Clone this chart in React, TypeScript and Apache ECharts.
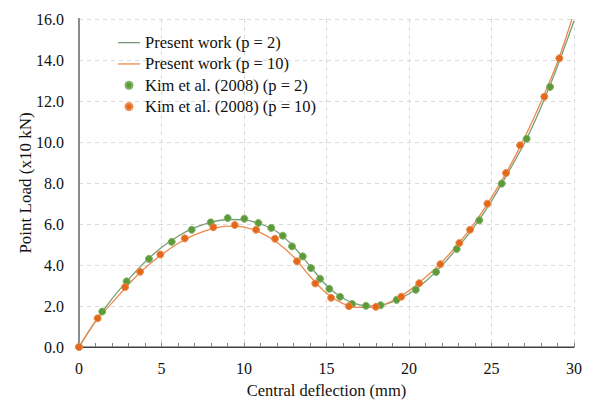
import React, { useEffect, useRef } from "react";
import * as echarts from "echarts";

const lineX: number[] = [0, 1, 2, 3, 4, 5, 6, 7, 8, 9, 10, 11, 12, 13, 14, 15, 16, 17, 18, 19, 20, 21, 22, 23, 24, 25, 26, 27, 28, 29, 30];
const presentP2: number[] = [0, 1.25, 2.35, 3.3, 4.15, 4.85, 5.4, 5.82, 6.08, 6.22, 6.2, 6.0, 5.62, 4.9, 3.95, 3.0, 2.38, 2.05, 2.0, 2.2, 2.6, 3.2, 3.98, 4.9, 5.92, 7.12, 8.5, 9.95, 11.7, 13.7, 15.9];
const presentP10X: number[] = [0, 1, 2, 3, 4, 5, 6, 7, 8, 9, 10, 11, 12, 13, 14, 15, 16, 17, 18, 19, 20, 21, 22, 23, 24, 25, 26, 27, 28, 29, 29.88];
const presentP10: number[] = [0, 1.25, 2.15, 3.05, 3.85, 4.5, 5.05, 5.47, 5.75, 5.9, 5.85, 5.58, 5.1, 4.4, 3.45, 2.62, 2.12, 1.93, 1.95, 2.25, 2.75, 3.4, 4.15, 5.05, 6.08, 7.3, 8.65, 10.2, 11.95, 13.9, 16.0];

const kimP2X: number[] = [0, 1.41, 2.89, 4.24, 5.62, 6.83, 7.98, 9.01, 10.02, 10.87, 11.65, 12.35, 12.91, 13.56, 14.06, 14.61, 15.17, 15.82, 16.55, 17.39, 18.28, 19.25, 20.41, 21.64, 22.89, 24.26, 25.62, 27.13, 28.55];
const kimP2Y: number[] = [0, 1.73, 3.2, 4.3, 5.13, 5.72, 6.08, 6.29, 6.26, 6.05, 5.81, 5.43, 4.91, 4.42, 3.85, 3.33, 2.84, 2.45, 2.1, 2.01, 2.04, 2.3, 2.79, 3.66, 4.78, 6.18, 7.97, 10.16, 12.69];

const kimP10X: number[] = [0, 1.13, 2.79, 3.7, 4.93, 6.41, 8.14, 9.44, 10.73, 11.88, 13.21, 14.32, 15.28, 16.36, 17.99, 19.53, 20.62, 21.9, 23.05, 23.7, 24.75, 25.88, 26.73, 28.2, 29.11];
const kimP10Y: number[] = [0, 1.4, 2.92, 3.67, 4.51, 5.3, 5.84, 5.95, 5.72, 5.28, 4.18, 3.1, 2.4, 1.99, 1.96, 2.45, 3.11, 4.04, 5.07, 5.72, 6.99, 8.49, 9.84, 12.21, 14.08];

const seriesNames: string[] = ["Present work (p = 2)", "Present work (p = 10)", "Kim et al. (2008) (p = 2)", "Kim et al. (2008) (p = 10)"];

const zip = (xs: number[], ys: number[]) => xs.map((x, i) => [x, ys[i]]);

const FONT = "Liberation Serif";
const LINE_ICON = "path://M0,0 L22,0 L22,1.3 L0,1.3 Z";

export default function App() {
  const ref = useRef<HTMLDivElement>(null);
  useEffect(() => {
    if (!ref.current) return;
    const chart = echarts.init(ref.current, null, { renderer: "svg" });
    const greenPt = "#5c9a3a";
    const orangePt = "#e2691c";
    const greenLine = "#7a9c78";
    const orangeLine = "#ec8a4c";
    chart.setOption({
      animation: false,
      backgroundColor: "#ffffff",
      textStyle: { fontFamily: FONT },
      grid: { left: 79, right: 16, top: 19, bottom: 54, containLabel: false, outerBoundsMode: "none" },
      legend: {
        orient: "vertical",
        left: 118,
        top: 32,
        padding: 0,
        itemGap: 0,
        itemWidth: 22,
        itemHeight: 7,
        textStyle: { fontFamily: FONT, fontSize: 16.5, color: "#111", lineHeight: 21.3 },
        data: [
          { name: seriesNames[0], icon: LINE_ICON },
          { name: seriesNames[1], icon: LINE_ICON },
          { name: seriesNames[2], icon: "circle" },
          { name: seriesNames[3], icon: "circle" },
        ],
      },
      xAxis: [
        {
          type: "value",
          min: 0,
          max: 30,
          interval: 5,
          name: "Central deflection (mm)",
          nameLocation: "middle",
          nameGap: 35,
          nameMoveOverlap: false,
          nameTextStyle: { fontFamily: FONT, fontSize: 16.5, color: "#111" },
          axisLine: { show: true, lineStyle: { color: "#7f7f7f", width: 1.5 } },
          axisTick: { show: true, inside: true, length: 4, lineStyle: { color: "#7f7f7f" } },
          minorTick: { show: true, splitNumber: 5, length: 4, lineStyle: { color: "#7f7f7f" } },
          axisLabel: { fontFamily: FONT, fontSize: 16, color: "#111", margin: 13 },
          splitLine: { show: true, lineStyle: { color: "#d9d9d9", type: [4, 4], width: 1 } },
        },
        {
          type: "value",
          position: "top",
          min: 0,
          max: 30,
          interval: 5,
          axisLine: { show: true, lineStyle: { color: "#404040", width: 1 } },
          axisTick: { show: false },
          axisLabel: { show: false },
          splitLine: { show: false },
        },
      ],
      yAxis: [
        {
          type: "value",
          min: 0,
          max: 16,
          interval: 2,
          name: "Point Load (x10 kN)",
          nameLocation: "middle",
          nameGap: 45,
          nameMoveOverlap: false,
          nameTextStyle: { fontFamily: FONT, fontSize: 17, color: "#111" },
          axisLine: { show: true, lineStyle: { color: "#8c8c8c", width: 2 } },
          axisTick: { show: false },
          axisLabel: {
            fontFamily: FONT,
            fontSize: 16,
            color: "#111",
            margin: 15,
            formatter: (v: number) => v.toFixed(1),
          },
          splitLine: { show: true, lineStyle: { color: "#d9d9d9", type: [4, 4], width: 1 } },
        },
        {
          type: "value",
          position: "right",
          min: 0,
          max: 16,
          interval: 2,
          axisLine: { show: true, lineStyle: { color: "#8c8c8c", width: 2 } },
          axisTick: { show: false },
          axisLabel: { show: false },
          splitLine: { show: false },
        },
      ],
      series: [
        {
          name: seriesNames[0],
          type: "line",
          smooth: 0.3,
          symbol: "none",
          data: zip(lineX, presentP2),
          lineStyle: { color: greenLine, width: 1.3 },
          itemStyle: { color: greenLine },
          z: 2,
        },
        {
          name: seriesNames[1],
          type: "line",
          smooth: 0.3,
          symbol: "none",
          data: zip(presentP10X, presentP10),
          lineStyle: { color: orangeLine, width: 1.3 },
          itemStyle: { color: orangeLine },
          z: 2,
        },
        {
          name: seriesNames[2],
          type: "scatter",
          symbol: "circle",
          symbolSize: 7,
          data: zip(kimP2X, kimP2Y),
          itemStyle: { color: greenPt, borderColor: "#7fb264", borderWidth: 1, opacity: 1 },
          z: 3,
        },
        {
          name: seriesNames[3],
          type: "scatter",
          symbol: "circle",
          symbolSize: 7,
          data: zip(kimP10X, kimP10Y),
          itemStyle: { color: orangePt, borderColor: "#ee8c4e", borderWidth: 1, opacity: 1 },
          z: 4,
        },
      ],
    });
    return () => chart.dispose();
  }, []);
  return <div ref={ref} style={{ width: 590, height: 401, position: "absolute", left: 0, top: 0 }} />;
}
